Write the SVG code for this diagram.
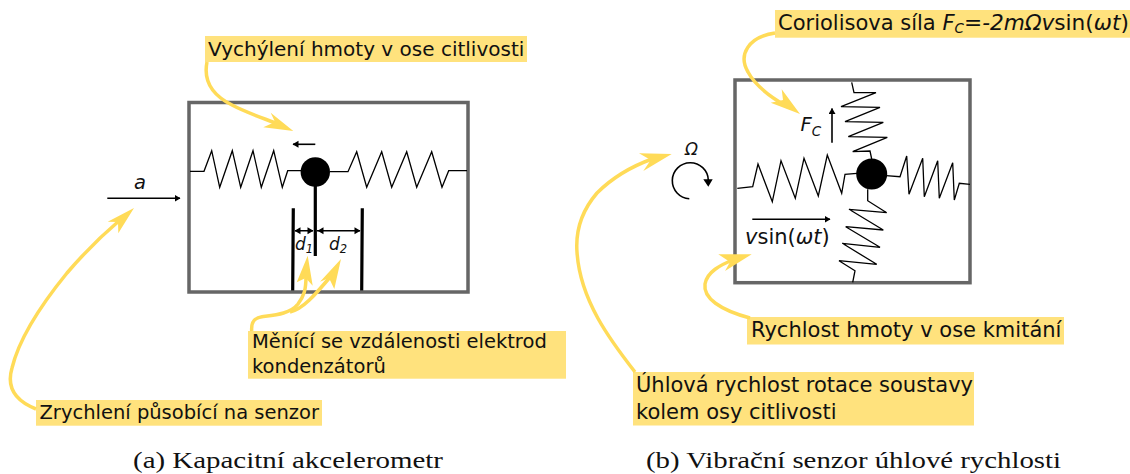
<svg xmlns="http://www.w3.org/2000/svg" width="1130" height="474" viewBox="0 0 1130 474">
<style>
.box{fill:none;stroke:#666;stroke-width:3.500}
.sp{fill:none;stroke:#000;stroke-width:1.3;stroke-linejoin:miter}
.bar{fill:none;stroke:#000;stroke-width:3.2}
.ar{fill:none;stroke:#000;stroke-width:1.6}
.y{fill:none;stroke:#ffdb58;stroke-width:3.500}
.yh{fill:#ffdb58}
.lb{fill:#ffe27d}
text{font-family:"DejaVu Sans",sans-serif;fill:#111}
.t{font-size:19.500px}
.u{font-size:21px}
.m{font-size:19.500px;font-style:italic}
.d{font-size:17px;font-style:italic}
.s{font-size:11.500px;font-style:italic}
.sc{font-size:13.500px;font-style:italic}
.c{font-family:"Liberation Serif",serif;font-size:24px;fill:#111}
</style>
<defs>
<marker id="a" markerWidth="8" markerHeight="8" refX="5.500" refY="3.500" orient="auto" markerUnits="userSpaceOnUse"><path d="M0,0L6,3.500L0,7z" fill="#000"/></marker>
</defs>
<g id="diagram-a">
<rect class="box" x="189" y="102.500" width="279" height="189.500"/>
<path class="sp" d="M190,171.300L204,171.300L211.700,150.700L219.700,187.300L232.300,150.700L240.700,187.300L253,150.700L261.300,187.300L273.700,150.700L282.300,187.300L287.700,170.700L302,170.700"/>
<path class="sp" d="M330,171.700L348,171.700L356.700,151.700L366.700,187.300L381.700,151.700L391.700,187.300L406.700,151.700L416.700,187.300L431.700,151.700L442,187.300L448.700,170.700L467,170.700"/>
<path class="bar" d="M315.300,172V256M293.300,208.300L292.700,290.500M362.300,208.300L361.700,290.500"/>
<circle cx="315.300" cy="172" r="14.700"/>
<path class="ar" d="M315.300,144.300H293" marker-end="url(#a)"/>
<path class="ar" d="M107.300,198.300H180" marker-end="url(#a)"/>
<path class="ar" d="M295,230.700H313M317,230.700H360"/>
<path d="M294.500,230.700l6,-3.500v7zM313.500,230.700l-6,-3.500v7zM317.500,230.700l6,-3.500v7zM360.500,230.700l-6,-3.500v7z" fill="#000"/>
<text class="m" x="134" y="189">a</text>
<text class="d" x="295" y="250">d<tspan class="s" dy="3">1</tspan></text>
<text class="d" x="329" y="250">d<tspan class="s" dy="3">2</tspan></text>
</g>
<g id="diagram-b">
<rect class="box" x="735" y="80" width="235" height="202.700"/>
<path class="sp" d="M737.300,188.300L752.700,186.700L758,164L772.300,201.700L781,160.700L795.300,198.300L804,158.300L818.300,196L827.300,155L841.700,193.300L845,174.300L857,173.300"/>
<path class="sp" d="M886,175.700L900,176.700L906.700,156L909,194.300L922.700,158.300L924.300,196.700L937.700,160.700L939.300,198.300L952.700,162.700L954.300,200L959.300,183.300L970,184.300"/>
<path class="sp" d="M851.700,82.300L854,92.700L876,92.700L841,106.700L880,107.300L845,121.700L883.300,122.300L848.300,136.700L887.300,137.300L852.700,151.700L870,151L871.700,159"/>
<path class="sp" d="M867.700,189.300L867.700,200.700L886.700,212.700L849,209.300L883.300,230L845.700,226.700L880,247.300L842.300,243.300L876.700,264.300L839,260.700L855,270.700L852.700,282.300"/>
<circle cx="871.700" cy="174" r="15.500"/>
<path class="ar" d="M832,142.700V108.500" marker-end="url(#a)"/>
<path class="ar" d="M752.300,219.300H830" marker-end="url(#a)"/>
<path class="ar" d="M689.300,198.700A18,18 0 1 1 708.300,180"/>
<path d="M703.300,179.300h9.400l-4.400,7.400z" fill="#000"/>
<text class="m" x="800.500" y="131">F<tspan class="sc" dy="5">C</tspan></text>
<text x="745" y="244" font-size="21"><tspan font-style="italic">v</tspan>sin(<tspan font-style="italic">ωt</tspan>)</text>
<text class="d" x="685" y="154.500">Ω</text>
</g>
<g id="label-vychyleni"><rect class="lb" x="205" y="36" width="322" height="26"/><text class="t" style="font-size:20px" x="208" y="55.500">Vychýlení hmoty v ose citlivosti</text></g>
<g id="label-zrychleni"><rect class="lb" x="36" y="400" width="286" height="25.700"/><text class="t" x="39.500" y="419.300">Zrychlení působící na senzor</text></g>
<g id="label-menici"><rect class="lb" x="248" y="331" width="318" height="47.700"/><text class="t" x="252" y="348.300">Měnící se vzdálenosti elektrod</text><text class="t" x="252" y="373.300">kondenzátorů</text></g>
<g id="label-coriolis"><rect class="lb" x="775" y="10" width="355" height="27.700"/><text class="u" x="778" y="30">Coriolisova síla <tspan font-style="italic">F</tspan><tspan class="sc" dy="3">C</tspan><tspan dy="-3" font-size="21.700">=</tspan><tspan font-style="italic" font-size="21.700">-2mΩv</tspan><tspan font-size="21.700">sin(</tspan><tspan font-style="italic" font-size="21.700">ωt</tspan><tspan font-size="21.700">)</tspan></text></g>
<g id="label-rychlost"><rect class="lb" x="747" y="317" width="317" height="27.500"/><text class="u" x="751" y="336.500">Rychlost hmoty v ose kmitání</text></g>
<g id="label-uhlova"><rect class="lb" x="633" y="372" width="341" height="53.500"/><text class="u" x="636" y="392">Úhlová rychlost rotace soustavy</text><text class="u" x="636" y="418.500">kolem osy citlivosti</text></g>
<g id="connectors">
<path class="y" d="M207,62C203,82 214,96 232,105C245,112 260,117 278,124"/>
<path class="yh" d="M293.300,131L270.700,112.700L275,122L263.300,127.300z"/>
<path class="y" d="M36,409C13,400 7,385 12,368C20,335 45,300 67,273C85,252 100,237 120,220"/>
<path class="yh" d="M134,208L107.700,221.700L118,222L118.300,233.300z"/>
<path class="y" d="M251.700,331C251,322 254,318 262,316.700C275,315 290,314 298,304C304,296 306,290 306,276"/>
<path class="y" d="M290,312C303,309 315,295 331,276"/>
<path class="yh" d="M307.700,255.700L296.700,282.300L305.700,278L312.700,285.700z"/>
<path class="yh" d="M341,259L320,281.700L329,278L334.300,289z"/>
<path class="y" d="M775,33C748,37 738,55 748,72C755,85 770,97 788,107"/>
<path class="yh" d="M800,114L781.700,89.300L783,100L770.700,102.700z"/>
<path class="y" d="M635,372C610,340 580,300 577,252C575,225 585,207 597,193C612,178 630,167 652,159"/>
<path class="yh" d="M671.700,154L639,153.300L650.700,160L643.300,171z"/>
<path class="y" d="M750,318C720,310 703,298 705,284C707,272 720,265 735,259"/>
<path class="yh" d="M751.700,254.300L718.300,254.300L730,262L725,271z"/>
</g>
<text class="c" x="133" y="468" textLength="310" lengthAdjust="spacingAndGlyphs">(a) Kapacitní akcelerometr</text>
<text class="c" x="646" y="468" textLength="415" lengthAdjust="spacingAndGlyphs">(b) Vibrační senzor úhlové rychlosti</text>
</svg>
